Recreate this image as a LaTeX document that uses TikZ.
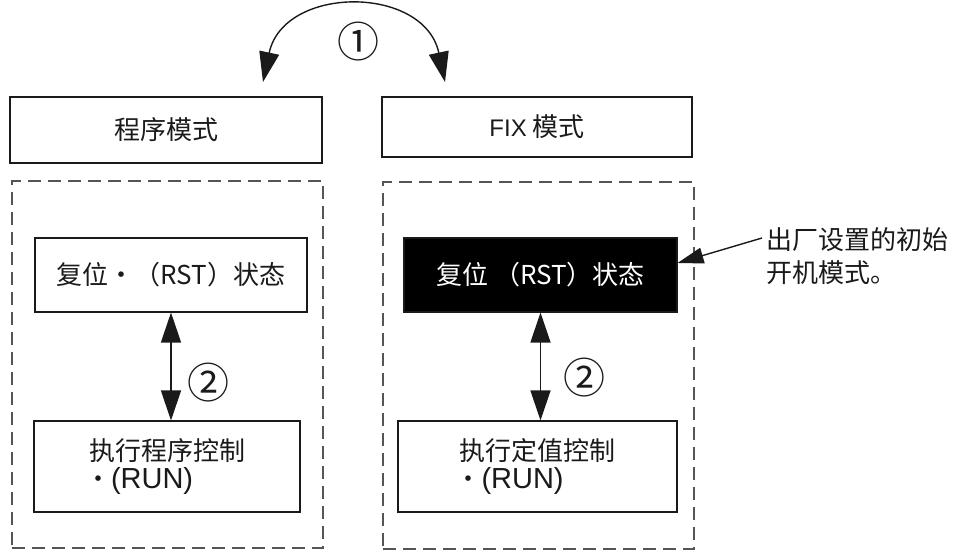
\documentclass[tikz,border=0pt]{standalone}
\usepackage{fontspec}
\newfontfamily\cjk{Noto Sans CJK SC}
\newfontfamily\arial{Liberation Sans}
\usepackage{xcolor}
\definecolor{ink}{HTML}{1A1A1A}
\definecolor{dashgray}{HTML}{555555}
\usetikzlibrary{arrows.meta,positioning,calc}
\tikzset{
  every picture/.style={x=1pt, y=1pt, line width=1.1pt},
  every node/.append style={font=\cjk\fontsize{26}{28}\selectfont, text=ink},
  box/.style={draw=ink, inner sep=0pt, align=center, minimum width=#1},
  box/.default=270pt,
  group/.style={draw=dashgray, dash pattern=on 13pt off 7pt, inner sep=0pt, minimum width=#1, minimum height=367pt},
  group/.default=311pt,
  dbl/.style={{Triangle[length=30pt, width=20pt]}-{Triangle[length=30pt, width=20pt]}, draw=ink, line width=1.4pt},
  pointer/.style={-{Triangle[length=26pt, width=16pt]}, draw=ink, line width=1.4pt},
  circnum/.style={font=\cjk\fontsize{42}{42}\selectfont, inner sep=0pt},
  note/.style={align=left, inner sep=0pt, font=\cjk\fontsize{26}{33}\selectfont},
}

\begin{document}
\begin{tikzpicture}[
    title/.style={box=#1, minimum height=60pt},
    state/.style={box=#1, minimum height=74pt},
    run/.style={box=#1, minimum height=91pt, align=left}]
  \useasboundingbox (0,0) rectangle (954,-552);
  % mode titles
  \node[title=312pt, minimum height=66pt] (titleP) at (166,-130) {程序模式};
  \node[title=310pt] (titleF) at (537,-127) {{\arial\fontsize{24}{28}\selectfont FIX} 模式};
  % dashed groups
  \node[group] (grpP) at (167.5,-364.5) {};
  \node[group] (grpF) at (538.5,-365.5) {};
  % states
  \node[state=272pt] (rstP) at (171,-275) {复位・（RST）状态};
  \node[state=273pt, fill=black, text=white] (rstF) at (540.5,-275) {复位 （RST）状态};
  \node[run=266pt] (runP) at (167,-466.5) {执行程序控制\\\hspace*{-4pt}・{\arial\fontsize{29}{28}\selectfont(RUN)}};
  \node[run=279pt] (runF) at (537.5,-466.5) {执行定值控制\\\hspace*{-4pt}・{\arial\fontsize{29}{28}\selectfont(RUN)}};
  \foreach \a/\b in {rstP/runP, rstF/runF} \draw[dbl] (\a.south) -- (\a.south |- \b.north);
  \node[circnum] (twoP) at (208,-383) {②};
  \node[circnum] (twoF) at (584,-378) {②};
  % mode switch
  \coordinate (swP) at (263,-82);
  \coordinate (swF) at (445,-82);
  \draw[dbl] (swP) to[bend left=78, looseness=1.4] (swF);
  \node[circnum] (one) at (358,-42) {①};
  % callout
  \node[note, anchor=west] (factory) at (766,-256) {出厂设置的初始\\开机模式。};
  \coordinate (noteend) at (762,-238);
  \coordinate (tipF) at ($(rstF.north east)!0.34!(rstF.south east)$);
  \draw[pointer] (noteend) -- (tipF);
\end{tikzpicture}
\end{document}
